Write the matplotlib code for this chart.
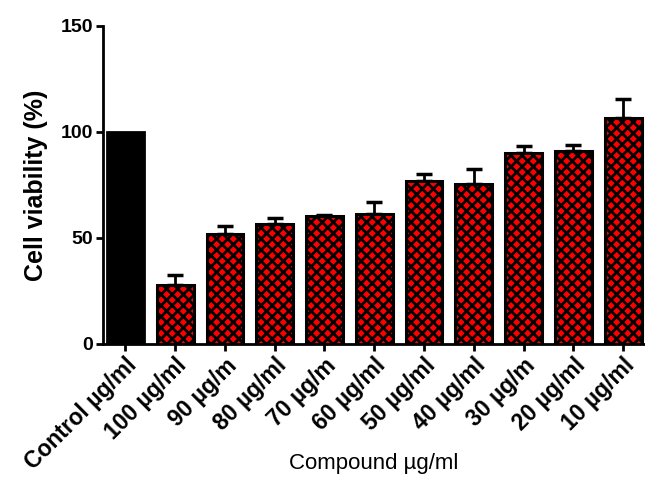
import numpy as np
import matplotlib
matplotlib.use('Agg')
import matplotlib.pyplot as plt

plt.rcParams['font.family'] = ['Liberation Sans', 'DejaVu Sans']
plt.rcParams['hatch.color'] = 'black'
plt.rcParams['hatch.linewidth'] = 2.0

# data
labels = ['Control \u00b5g/ml', '100 \u00b5g/ml', '90 \u00b5g/m', '80 \u00b5g/ml',
          '70 \u00b5g/m', '60 \u00b5g/ml', '50 \u00b5g/ml', '40 \u00b5g/ml',
          '30 \u00b5g/m', '20 \u00b5g/ml', '10 \u00b5g/ml']
viability = [100, 27.8, 51.9, 56.6, 60.4, 61.2, 77.0, 75.5, 90.2, 91.2, 106.5]
err = [0, 4.7, 3.9, 3.0, 0.5, 5.9, 3.0, 6.9, 3.2, 2.7, 9.1]

x = np.arange(len(labels))

fig = plt.figure(figsize=(6.45, 4.78), dpi=100)
ax = fig.add_axes([103/645, 1 - 344/478, 1 - 103/645, (344 - 26)/478])

# control bar solid black
ax.bar(x[0], viability[0], width=0.74, color='black', edgecolor='black', linewidth=2, zorder=2)

# treated bars: red checker with black
ax.bar(x[1:], viability[1:], width=0.74, facecolor='red', hatch='xxx',
       linewidth=0, zorder=2)
ax.bar(x[1:], viability[1:], width=0.74, fill=False, edgecolor='black',
       linewidth=2.2, zorder=3)
ax.errorbar(x[1:], viability[1:], yerr=[np.zeros(len(err) - 1), err[1:]],
            fmt='none', ecolor='black', elinewidth=2, capsize=6, capthick=2.5, zorder=1)

ax.set_xlim(-0.45, 10.44)
ax.set_ylim(0, 150)
ax.set_yticks([0, 50, 100, 150])
ax.set_xticks(x)
ax.set_xticklabels(labels, rotation=45, ha='right', rotation_mode='anchor',
                   fontsize=16.5, fontweight='bold')
for t in ax.get_yticklabels():
    t.set_fontsize(14)
    t.set_fontweight('bold')

ax.spines['top'].set_visible(False)
ax.spines['right'].set_visible(False)
ax.spines['left'].set_linewidth(2)
ax.spines['bottom'].set_linewidth(2)
ax.tick_params(width=2, length=5, pad=2)

ax.set_ylabel('Cell viability (%)', fontsize=18, fontweight='bold', labelpad=9)
fig.text(374/645, 1 - 463/478, 'Compound \u00b5g/ml', ha='center', va='center', fontsize=16)

fig.savefig('out.png', dpi=100)
